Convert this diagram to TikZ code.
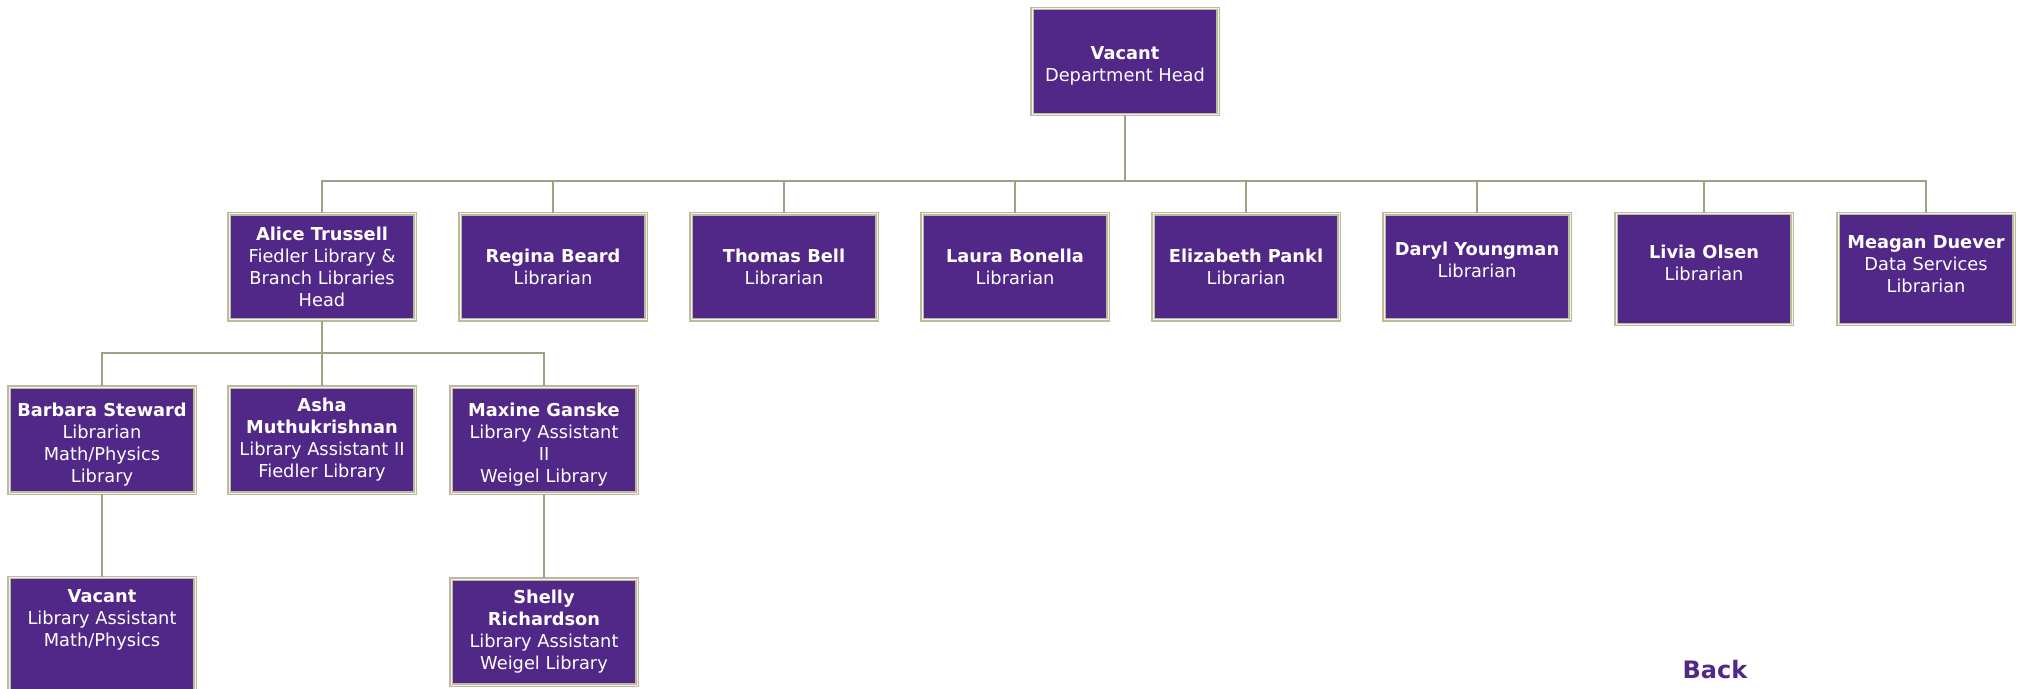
\documentclass[tikz,border=0pt]{standalone}
\usepackage{fontspec}
\setmainfont{DejaVu Sans}
\usepackage{tikz}

\definecolor{kspurple}{RGB}{81,40,136}
\definecolor{boxedge}{RGB}{188,188,156}
\definecolor{linkgray}{RGB}{160,160,132}

\begin{document}
\begin{tikzpicture}[x=0.5pt, y=-0.5pt, node distance={115.5pt}, font=\fontsize{8.9pt}{11pt}\selectfont,
    staff/.style = {draw=boxedge, double=gray!12, double distance=0.5pt, line width=0.6pt, fill=kspurple, text=white, align=center, minimum width=93pt, minimum height=53pt, inner sep=2pt},
    narrow/.style = {staff, minimum width=88pt, minimum height=55.5pt},
    link/.style = {draw=linkgray, line width=1.4pt}]
                \useasboundingbox (0,0) rectangle (2021,689);
                \coordinate (bar1) at (0,181);
                \coordinate (bar2) at (0,353);
                \node[staff] (head) at (1125,61.5) {\mbox{}\\\textbf{Vacant}\\Department Head};
                \node[staff] (r1) at (322,267) {\textbf{Alice Trussell}\\Fiedler Library \&\\Branch Libraries\\Head};
                \node[staff] (r2) [right of=r1] {\textbf{Regina Beard}\\Librarian};
                \node[staff] (r3) [right of=r2] {\textbf{Thomas Bell}\\Librarian};
                \node[staff] (r4) [right of=r3] {\textbf{Laura Bonella}\\Librarian};
                \node[staff] (r5) [right of=r4] {\textbf{Elizabeth Pankl}\\Librarian};
                \node[staff] (r6) [right of=r5] {\textbf{Daryl Youngman}\\Librarian\\[-4pt]\mbox{}};
                \node[narrow] (r7) [right of=r6, node distance=113.5pt, yshift=-1pt] {\textbf{Livia Olsen}\\Librarian\\[-5pt]\mbox{}};
                \node[narrow] (r8) [right of=r7, node distance=111pt] {\textbf{Meagan Duever}\\Data Services\\Librarian\\[-6pt]\mbox{}};
                \node[staff] (b2) [below of=r1, node distance=86.5pt] {\textbf{Asha}\\\textbf{Muthukrishnan}\\Library Assistant II\\Fiedler Library};
                \node[staff] (b1) [left of=b2, node distance=110pt] {\mbox{}\\\textbf{Barbara Steward}\\Librarian\\Math/Physics\\Library};
                \node[staff] (b3) [right of=b2, node distance=111pt] {\mbox{}\\\textbf{Maxine Ganske}\\Library Assistant\\II\\Weigel Library};
                \node[staff, anchor=north, inner ysep=6pt] (c1) at (102,577) {\textbf{Vacant}\\Library Assistant\\Math/Physics\\[30pt]\mbox{}};
                \node[staff] (c2) [below of=b3, node distance=96pt] {\textbf{Shelly}\\\textbf{Richardson}\\Library Assistant\\Weigel Library};
                \node[text=kspurple, font=\fontsize{12pt}{14pt}\selectfont\bfseries] (back) at (1715,670) {Back};
                \draw[link] (head.south) -- (head.south |- bar1) -| (r1.north);
                \draw[link] (head.south) -- (head.south |- bar1) -| (r2.north);
                \draw[link] (head.south) -- (head.south |- bar1) -| (r3.north);
                \draw[link] (head.south) -- (head.south |- bar1) -| (r4.north);
                \draw[link] (head.south) -- (head.south |- bar1) -| (r5.north);
                \draw[link] (head.south) -- (head.south |- bar1) -| (r6.north);
                \draw[link] (head.south) -- (head.south |- bar1) -| (r7.north);
                \draw[link] (head.south) -- (head.south |- bar1) -| (r8.north);
                \draw[link] (r1.south) -- (r1.south |- bar2) -| (b1.north);
                \draw[link] (r1.south) -- (b2.north);
                \draw[link] (r1.south) -- (r1.south |- bar2) -| (b3.north);
                \draw[link] (b1.south) -- (c1.north);
                \draw[link] (b3.south) -- (c2.north);
            \end{tikzpicture}
\end{document}
